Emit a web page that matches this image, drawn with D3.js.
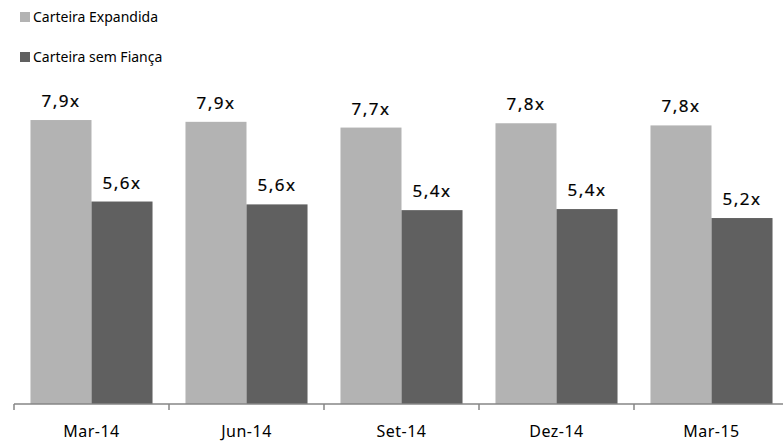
<!DOCTYPE html>
<html>
<head>
<meta charset="utf-8">
<script src="https://cdn.jsdelivr.net/npm/d3@7"></script>
<style>
  body { margin: 0; background: #fff; }
  svg text { font-family: "Noto Sans", "DejaVu Sans", sans-serif; fill: #000; }
</style>
</head>
<body>
<svg id="chart" width="783" height="441"></svg>
<script>
// categories and series
const categories = ['Mar-14', 'Jun-14', 'Set-14', 'Dez-14', 'Mar-15'];
const seriesNames = ['Carteira Expandida', 'Carteira sem Fiança'];
const expandida = [7.91, 7.86, 7.70, 7.82, 7.76];
const semFianca = [5.64, 5.56, 5.40, 5.43, 5.18];
const colors = ['#b3b3b3', '#606060'];

const svg = d3.select('#chart');
const margin = { left: 14, right: -6, bottom: 37, top: 45 };
const width = 783 - margin.left - margin.right;
const baseY = 441 - margin.bottom;

const x0 = d3.scaleBand().domain(categories).range([margin.left, margin.left + width]).paddingInner(0).paddingOuter(0);
const x1 = d3.scaleBand().domain([0, 1]).range([0, x0.bandwidth()]).paddingOuter(0.27).paddingInner(0);
const y = d3.scaleLinear().domain([0, 10]).range([baseY, baseY - 359]);

const fmt = (v) => d3.format('.1f')(v).replace('.', ',') + 'x';

const rows = categories.map((c, i) => ({ cat: c, vals: [expandida[i], semFianca[i]] }));

const groups = svg.selectAll('g.cat')
  .data(rows)
  .join('g')
  .attr('class', 'cat')
  .attr('transform', (d) => `translate(${x0(d.cat)},0)`);

groups.selectAll('rect')
  .data((d) => d.vals.map((v, k) => ({ v, k })))
  .join('rect')
  .attr('x', (d) => x1(d.k))
  .attr('width', x1.bandwidth())
  .attr('y', (d) => y(d.v))
  .attr('height', (d) => y(0) - y(d.v))
  .attr('fill', (d) => colors[d.k]);

// value labels above each bar, slightly heavier than regular
groups.selectAll('text.lbl')
  .data((d) => d.vals.map((v, k) => ({ v, k })))
  .join('text')
  .attr('class', 'lbl')
  .attr('x', (d) => x1(d.k) + x1.bandwidth() / 2)
  .attr('y', (d) => y(d.v) - 13)
  .attr('text-anchor', 'middle')
  .style('font-size', '17px')
  .style('letter-spacing', '1.5px')
  .style('stroke', '#000')
  .style('stroke-width', 0.2)
  .text((d) => fmt(d.v));

// x axis: ticks sit on the category boundaries
const axisG = svg.append('g').attr('transform', `translate(0,${baseY})`);
axisG.append('line')
  .attr('x1', margin.left).attr('x2', margin.left + width)
  .attr('stroke', '#868686').attr('stroke-width', 1.5);
axisG.selectAll('line.tick')
  .data(categories)
  .join('line')
  .attr('class', 'tick')
  .attr('x1', (d) => x0(d)).attr('x2', (d) => x0(d))
  .attr('y1', 0).attr('y2', 6)
  .attr('stroke', '#868686').attr('stroke-width', 1.5);
axisG.selectAll('text')
  .data(categories)
  .join('text')
  .attr('x', (d) => x0(d) + x0.bandwidth() / 2)
  .attr('y', 33)
  .attr('text-anchor', 'middle')
  .style('font-size', '16px')
  .style('letter-spacing', '0.5px')
  .text((d) => d);

// legend
const legend = svg.selectAll('g.legend')
  .data(seriesNames)
  .join('g')
  .attr('class', 'legend')
  .attr('transform', (d, i) => `translate(20,${12 + i * 40})`);
legend.append('rect').attr('width', 10).attr('height', 10).attr('fill', (d, i) => colors[i]);
legend.append('text')
  .attr('x', 13).attr('y', 10)
  .style('font-size', '14px')
  .text((d) => d);
</script>
</body>
</html>
